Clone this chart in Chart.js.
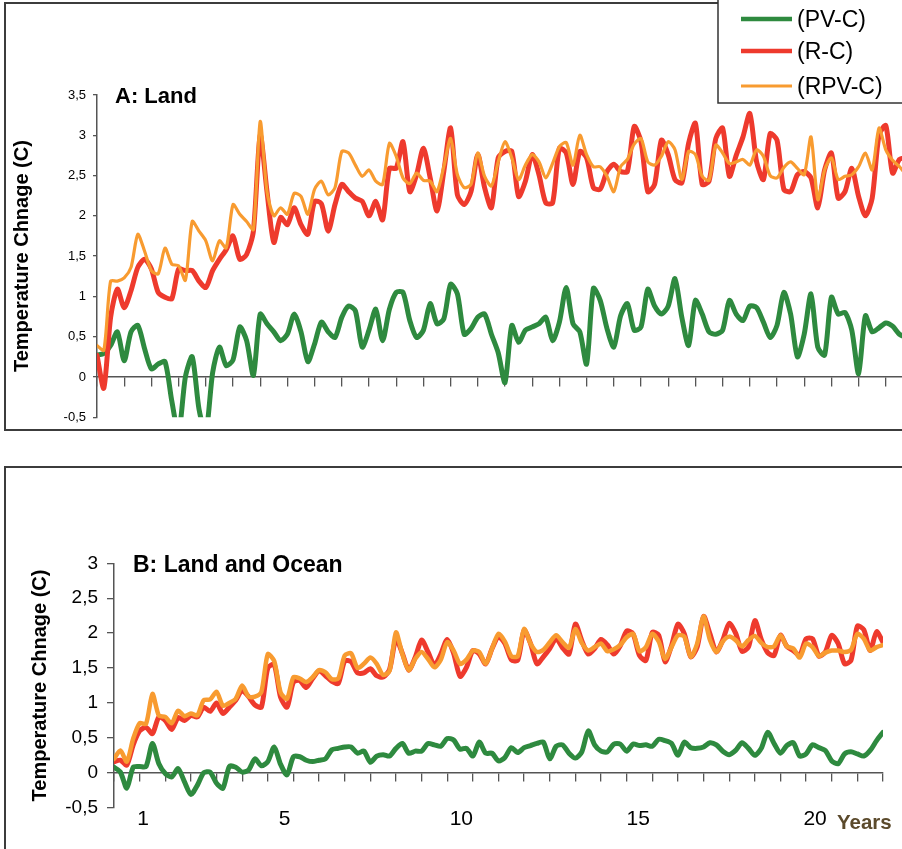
<!DOCTYPE html>
<html>
<head>
<meta charset="utf-8">
<script src="https://cdn.jsdelivr.net/npm/chart.js@4.4.1/dist/chart.umd.min.js"></script>
<style>
  html, body { margin: 0; padding: 0; background: #fff; overflow: hidden; width: 902px; height: 849px; }
  #wrapLand { position: absolute; left: 0; top: 0; width: 902px; height: 432px; overflow: hidden; }
  #wrapGlobal { position: absolute; left: 0; top: 440px; width: 902px; height: 409px; overflow: hidden; }
  canvas { display: block; }
</style>
</head>
<body>
<div id="wrapLand"><canvas id="land" width="916" height="432" style="width:916px;height:432px"></canvas></div>
<div id="wrapGlobal"><canvas id="global" width="902" height="409" style="width:902px;height:409px"></canvas></div>
<script>
// ---- series names and colours ----
const SERIES_NAMES = ['(PV-C)', '(R-C)', '(RPV-C)'];
const PV_COLOR = '#2e8a3f';
const R_COLOR = '#ee3a2d';
const RPV_COLOR = '#f89b30';

// ---- panel A: land, temperature change (C), one value per sample step ----
const PV_C_LAND = [0.27,0.29,0.39,0.56,0.2,0.56,0.64,0.35,0.10,0.16,0.19,-0.30,-0.70,0.00,0.25,-0.40,-0.70,0.05,0.37,0.14,
  0.21,0.62,0.45,0.02,0.78,0.66,0.56,0.45,0.53,0.78,0.56,0.19,0.41,0.68,0.56,0.49,0.74,0.88,0.82,0.37,
  0.58,0.84,0.45,0.84,1.05,1.05,0.70,0.49,0.58,0.91,0.66,0.72,1.15,1.03,0.53,0.60,0.74,0.78,0.53,0.30,
  -0.07,0.64,0.43,0.58,0.62,0.66,0.74,0.45,0.68,1.11,0.66,0.56,0.16,1.10,0.95,0.60,0.37,0.76,0.91,0.58,
  0.62,1.09,0.88,0.78,0.88,1.22,0.74,0.39,0.95,0.78,0.56,0.53,0.58,0.95,0.78,0.70,0.88,0.86,0.68,0.49,
  0.64,1.05,0.78,0.25,0.53,1.03,0.37,0.27,0.99,0.78,0.80,0.58,0.04,0.76,0.56,0.61,0.67,0.63,0.53,0.49];
const R_C_LAND = [0.27,-0.14,0.74,1.09,0.86,1.07,1.36,1.46,1.34,1.05,0.99,0.97,1.34,1.32,1.32,1.19,1.11,1.32,1.46,1.58,
  1.75,1.46,1.52,1.81,3.00,2.30,1.67,1.98,1.89,2.10,1.89,1.77,2.18,2.15,1.81,2.14,2.39,2.30,2.22,2.18,
  2.00,2.18,1.95,2.59,2.59,2.92,2.30,2.51,2.84,2.47,2.06,2.55,3.09,2.26,2.14,2.30,2.76,2.35,2.10,2.72,
  2.80,2.80,2.24,2.43,2.76,2.51,2.16,2.16,2.84,2.78,2.39,2.80,2.72,2.35,2.33,2.55,2.64,2.55,2.55,3.11,
  2.92,2.30,2.39,2.94,2.76,2.45,2.41,2.90,3.15,2.39,2.43,2.96,3.09,2.49,2.75,2.98,3.27,2.67,2.45,3.02,
  2.94,2.33,2.30,2.51,2.55,2.47,2.10,2.57,2.78,2.22,2.30,2.59,2.24,2.00,2.22,3.00,3.12,2.53,2.70,2.72];
const RPV_C_LAND = [0.39,0.33,1.19,1.19,1.23,1.36,1.77,1.56,1.32,1.28,1.60,1.40,1.38,1.20,1.93,1.81,1.69,1.44,1.69,1.60,
  2.14,2.02,1.93,1.83,3.17,2.30,2.00,2.10,2.02,2.28,2.24,2.02,2.33,2.43,2.26,2.35,2.80,2.78,2.63,2.49,
  2.57,2.43,2.39,2.90,2.74,2.47,2.40,2.53,2.44,2.43,2.30,2.61,2.96,2.51,2.35,2.39,2.78,2.49,2.37,2.67,
  2.92,2.72,2.45,2.63,2.76,2.67,2.47,2.65,2.86,2.91,2.63,3.00,2.76,2.61,2.61,2.49,2.30,2.61,2.70,2.89,
  2.96,2.67,2.63,2.74,2.92,2.82,2.45,2.80,2.76,2.49,2.44,2.88,2.78,2.65,2.67,2.70,2.63,2.82,2.74,2.50,
  2.47,2.60,2.67,2.59,2.51,2.98,2.20,2.57,2.72,2.45,2.49,2.51,2.61,2.78,2.57,3.09,2.82,2.69,2.61,2.51];

// ---- panel B: land and ocean ----
const PV_C_GLOBAL = [0.08,0.01,-0.22,0.08,0.09,0.09,0.42,0.13,-0.01,-0.06,0.06,-0.13,-0.31,-0.18,0.00,0.01,-0.15,-0.22,0.09,0.08,
  0.01,0.04,0.20,0.10,0.16,0.37,0.12,-0.03,0.23,0.23,0.18,0.16,0.18,0.20,0.33,0.35,0.37,0.37,0.28,0.31,
  0.15,0.24,0.26,0.24,0.35,0.42,0.28,0.31,0.31,0.42,0.40,0.38,0.49,0.47,0.34,0.35,0.24,0.44,0.28,0.28,
  0.17,0.22,0.36,0.29,0.36,0.39,0.42,0.44,0.20,0.38,0.40,0.28,0.21,0.30,0.60,0.40,0.31,0.30,0.41,0.41,
  0.31,0.41,0.39,0.40,0.38,0.48,0.46,0.42,0.25,0.44,0.36,0.35,0.37,0.43,0.40,0.31,0.26,0.32,0.43,0.35,
  0.25,0.35,0.58,0.42,0.28,0.39,0.43,0.24,0.27,0.40,0.36,0.32,0.17,0.13,0.27,0.30,0.27,0.24,0.32,0.46,0.58];
const R_C_GLOBAL = [0.16,0.18,0.11,0.40,0.60,0.65,0.56,0.80,0.75,0.62,0.79,0.75,0.82,0.80,0.94,0.88,1.00,0.85,0.94,1.04,
  1.18,1.09,0.97,0.94,1.50,1.55,1.08,0.94,1.30,1.32,1.22,1.35,1.46,1.39,1.31,1.28,1.60,1.59,1.43,1.43,
  1.49,1.39,1.37,1.48,1.92,1.71,1.47,1.65,1.90,1.73,1.54,1.70,1.91,1.71,1.38,1.51,1.75,1.70,1.56,1.78,
  1.95,1.85,1.62,1.61,2.04,1.85,1.56,1.66,1.78,1.92,1.79,1.70,2.13,1.89,1.70,1.78,1.91,1.83,1.70,1.82,
  2.03,1.99,1.68,1.61,2.01,1.97,1.59,1.82,2.13,1.99,1.66,1.80,2.24,1.99,1.73,1.90,2.14,2.00,1.74,1.80,
  2.18,1.91,1.72,1.68,1.97,1.81,1.75,1.68,1.92,1.92,1.67,1.73,1.97,1.85,1.56,1.61,2.10,2.05,1.75,2.02,1.87];
const RPV_C_GLOBAL = [0.20,0.32,0.16,0.49,0.71,0.70,1.13,0.82,0.80,0.71,0.89,0.81,0.85,0.82,1.04,1.05,1.16,0.96,1.00,1.06,
  1.25,1.09,1.09,1.16,1.70,1.60,1.15,1.06,1.37,1.35,1.30,1.37,1.47,1.44,1.34,1.35,1.68,1.71,1.50,1.56,
  1.65,1.56,1.40,1.46,2.01,1.70,1.47,1.63,1.73,1.63,1.51,1.62,1.87,1.75,1.56,1.62,1.75,1.73,1.56,1.78,
  1.99,1.88,1.67,1.67,2.06,1.85,1.73,1.76,1.87,1.97,1.87,1.79,2.06,1.86,1.75,1.80,1.85,1.74,1.77,1.83,
  1.94,1.99,1.74,1.80,1.99,1.88,1.63,1.80,1.97,1.95,1.66,1.85,2.24,1.90,1.73,1.88,1.95,1.90,1.81,1.90,
  1.96,1.86,1.80,1.81,1.97,1.81,1.78,1.65,1.85,1.80,1.67,1.72,1.75,1.75,1.73,1.76,1.99,1.92,1.75,1.80,1.83];

// ---- axes ----
const SAMPLE_AXIS_MAX = 120;      // sample steps across each panel
const SAMPLES_PER_TICK = 4;       // one tick mark every 4 samples
const YEAR_TICKS = [1, 5, 10, 15, 20];
const YEAR_START = 0.18;          // year at the first sample
const YEAR_END = 21.92;           // year at the last sample
const Y_TITLE = 'Temperature Chnage (C)';

const FONT = "'Liberation Sans', Arial, Helvetica, sans-serif";
Chart.defaults.font.family = FONT;
Chart.defaults.color = '#000';

const commaDecimal = v => String(v).replace('.', ',');
const toPoints = values => values.map((v, i) => ({ x: i, y: v }));

function makeDatasets(pv, r, rpv, widths) {
  return [
    { label: SERIES_NAMES[0], data: toPoints(pv), borderColor: PV_COLOR, borderWidth: widths[0], order: 3 },
    { label: SERIES_NAMES[1], data: toPoints(r), borderColor: R_COLOR, borderWidth: widths[1], order: 2 },
    { label: SERIES_NAMES[2], data: toPoints(rpv), borderColor: RPV_COLOR, borderWidth: widths[2], order: 1 }
  ];
}

function sampleAxis(tickLength) {
  return {
    type: 'linear',
    position: { y: 0 },
    min: 0,
    max: SAMPLE_AXIS_MAX,
    ticks: { display: false, stepSize: SAMPLES_PER_TICK, autoSkip: false, maxTicksLimit: 100 },
    grid: { drawOnChartArea: false, drawTicks: true, tickLength: tickLength, color: '#555', lineWidth: 1.3 },
    border: { display: true, color: '#555', width: 1.5 }
  };
}

function valueAxis(min, max, opts) {
  return {
    type: 'linear',
    position: 'left',
    min: min,
    max: max,
    afterFit: s => { s.width = opts.width; },
    ticks: { stepSize: 0.5, autoSkip: false, padding: opts.pad, color: '#000',
             font: { size: opts.tickSize }, callback: v => commaDecimal(v) },
    grid: { drawOnChartArea: false, drawTicks: true, tickLength: opts.tickLen, color: '#555', lineWidth: 1.3 },
    border: { display: true, color: '#555', width: 1.5 },
    title: { display: true, text: Y_TITLE, color: '#000',
             font: { size: 20, weight: 'bold' }, padding: { top: opts.titlePad, bottom: 0 } }
  };
}

const baseOptions = {
  responsive: false,
  animation: false,
  events: [],
  elements: { point: { radius: 0 }, line: { tension: 0.25, borderJoinStyle: 'round', borderCapStyle: 'round' } },
  plugins: { legend: { display: false }, tooltip: { enabled: false } }
};

// Frame, panel title and legend for the land panel
const landDecor = {
  id: 'landDecor',
  beforeDraw(chart) {
    const ctx = chart.ctx;
    ctx.save();
    ctx.strokeStyle = '#3c3c3c';
    ctx.lineWidth = 2;
    ctx.strokeRect(5, 3, chart.width + 20, 427);
    ctx.restore();
  },
  afterDraw(chart) {
    const ctx = chart.ctx;
    ctx.save();
    ctx.fillStyle = '#000';
    ctx.textAlign = 'left';
    ctx.textBaseline = 'middle';
    ctx.font = 'bold 22px ' + FONT;
    ctx.fillText('A: Land', 115, 97);

    // legend box
    ctx.fillStyle = '#fff';
    ctx.fillRect(718, -2, 300, 105);
    ctx.strokeStyle = '#333';
    ctx.lineWidth = 1.5;
    ctx.strokeRect(718, -2, 300, 105);
    const rows = [19, 51, 86];
    const widths = [4.5, 4.5, 3];
    chart.data.datasets.forEach((ds, k) => {
      ctx.strokeStyle = ds.borderColor;
      ctx.lineWidth = widths[k];
      ctx.lineCap = 'butt';
      ctx.beginPath();
      ctx.moveTo(741, rows[k]);
      ctx.lineTo(792, rows[k]);
      ctx.stroke();
      ctx.fillStyle = '#000';
      ctx.font = '23px ' + FONT;
      ctx.fillText(ds.label, 797, rows[k] + 2);
    });
    ctx.restore();
  }
};

// Frame, panel title and unit label for the land-and-ocean panel
const globalDecor = {
  id: 'globalDecor',
  beforeDraw(chart) {
    const ctx = chart.ctx;
    ctx.save();
    ctx.strokeStyle = '#3c3c3c';
    ctx.lineWidth = 2;
    ctx.strokeRect(5, 27, chart.width + 20, chart.height + 20);
    ctx.restore();
  },
  afterDraw(chart) {
    const ctx = chart.ctx;
    ctx.save();
    ctx.fillStyle = '#000';
    ctx.textAlign = 'left';
    ctx.textBaseline = 'middle';
    ctx.font = 'bold 23px ' + FONT;
    ctx.fillText('B: Land and Ocean', 133, 125.5);
    ctx.fillStyle = '#5b4a2c';
    ctx.font = 'bold 20.5px ' + FONT;
    ctx.fillText('Years', 837, 383);
    ctx.restore();
  }
};

new Chart(document.getElementById('land'), {
  type: 'line',
  data: { datasets: makeDatasets(PV_C_LAND, R_C_LAND, RPV_C_LAND, [5, 5, 3.2]) },
  options: Object.assign({}, baseOptions, {
    layout: { padding: { left: 0, top: 95, right: 3, bottom: 14 } },
    scales: {
      x: sampleAxis(9),
      y: valueAxis(-0.5, 3.5, { width: 97, pad: 7, tickSize: 13, tickLen: 4, titlePad: 10 })
    }
  }),
  plugins: [landDecor]
});

new Chart(document.getElementById('global'), {
  type: 'line',
  data: { datasets: makeDatasets(PV_C_GLOBAL, R_C_GLOBAL, RPV_C_GLOBAL, [5, 5, 4.5]) },
  options: Object.assign({}, baseOptions, {
    layout: { padding: { left: 0, top: 123.3, right: 19, bottom: 41.3 } },
    scales: {
      x: sampleAxis(8),
      years: {
        type: 'linear',
        axis: 'x',
        position: { y: 0 },
        min: YEAR_START,
        max: YEAR_END,
        afterBuildTicks: s => { s.ticks = YEAR_TICKS.map(v => ({ value: v })); },
        ticks: { autoSkip: false, padding: 33.7, color: '#000', font: { size: 21 }, callback: v => String(v) },
        grid: { display: false, drawTicks: false },
        border: { display: false }
      },
      y: valueAxis(-0.5, 3, { width: 114, pad: 9, tickSize: 19, tickLen: 7, titlePad: 28 })
    }
  }),
  plugins: [globalDecor]
});
</script>
</body>
</html>
